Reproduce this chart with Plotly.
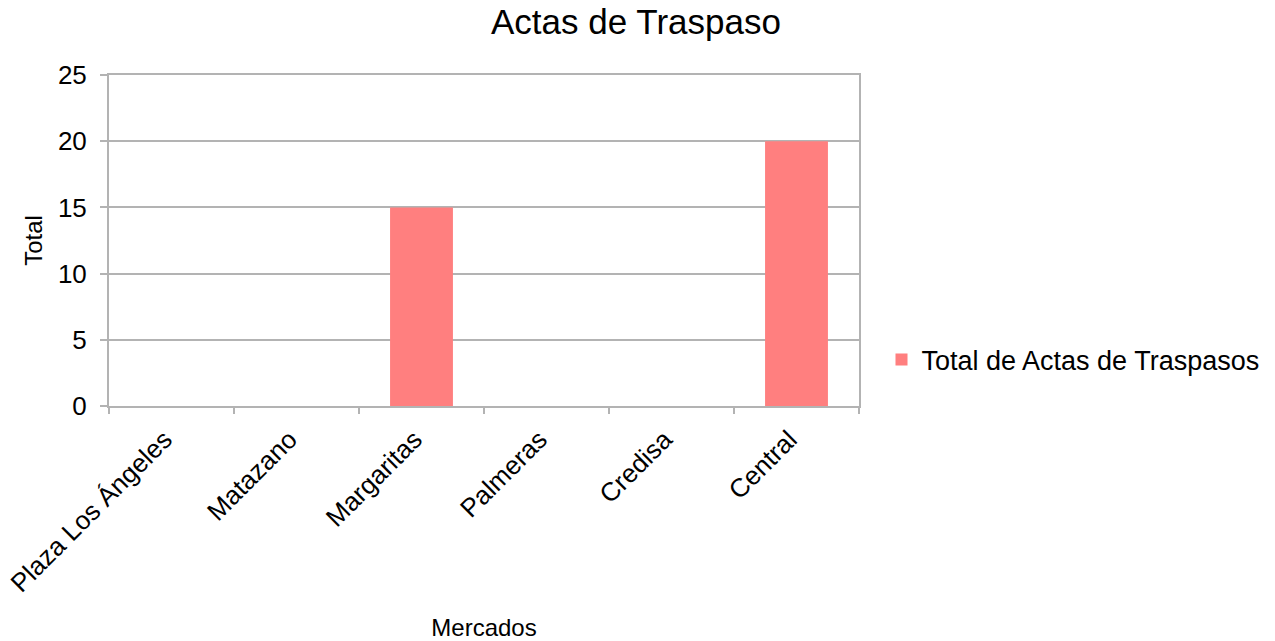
import plotly.graph_objects as go

categories = ["Plaza Los Ángeles", "Matazano", "Margaritas", "Palmeras", "Credisa", "Central"]
values = [0, 0, 15, 0, 0, 20]
series_name = "Total de Actas de Traspasos"
title_text = "Actas de Traspaso"
x_title = "Mercados"
y_title = "Total"
y_ticks = [0, 5, 10, 15, 20, 25]

FONT = "Liberation Sans, Arial, sans-serif"
GRID = "#b3b3b3"

fig = go.Figure()
fig.add_trace(go.Bar(x=categories, y=values, name=series_name,
                     marker=dict(color="#FF7F7F", line=dict(width=0))))

fig.update_layout(
    width=1275, height=641,
    paper_bgcolor="white", plot_bgcolor="white",
    font=dict(family=FONT, color="black"),
    title=dict(text=title_text, x=0.4988, xanchor="center", y=0.9657, yanchor="middle",
               font=dict(size=35, family=FONT)),
    margin=dict(l=109, r=416, t=75, b=235, autoexpand=False),
    bargap=0.497,
    showlegend=True,
    legend=dict(x=1.03, y=0.139, xanchor="left", yanchor="middle",
                font=dict(size=27, family=FONT), itemwidth=30,
                bgcolor="rgba(0,0,0,0)"),
    xaxis=dict(
        title=dict(text=x_title, font=dict(size=24), standoff=22),
        tickangle=-45, tickfont=dict(size=26),
        ticklabelstandoff=6, ticklabelshift=-7,
        showline=True, linecolor=GRID, linewidth=2, mirror=True,
        ticks="outside", ticklen=6, tickcolor=GRID, tickwidth=2,
        tickson="boundaries", showgrid=False, automargin=False,
    ),
    yaxis=dict(
        title=dict(text=y_title, font=dict(size=24), standoff=8),
        range=[0, 25], tickvals=y_ticks, tickfont=dict(size=26),
        ticklabelstandoff=8,
        showline=True, linecolor=GRID, linewidth=2, mirror=True,
        ticks="outside", ticklen=7, tickcolor=GRID, tickwidth=2,
        showgrid=True, gridcolor=GRID, gridwidth=1.5, zeroline=False,
        automargin=False,
    ),
)

fig.write_html("out.html", config={"displayModeBar": False},
               post_script="document.body.style.margin='0';")
